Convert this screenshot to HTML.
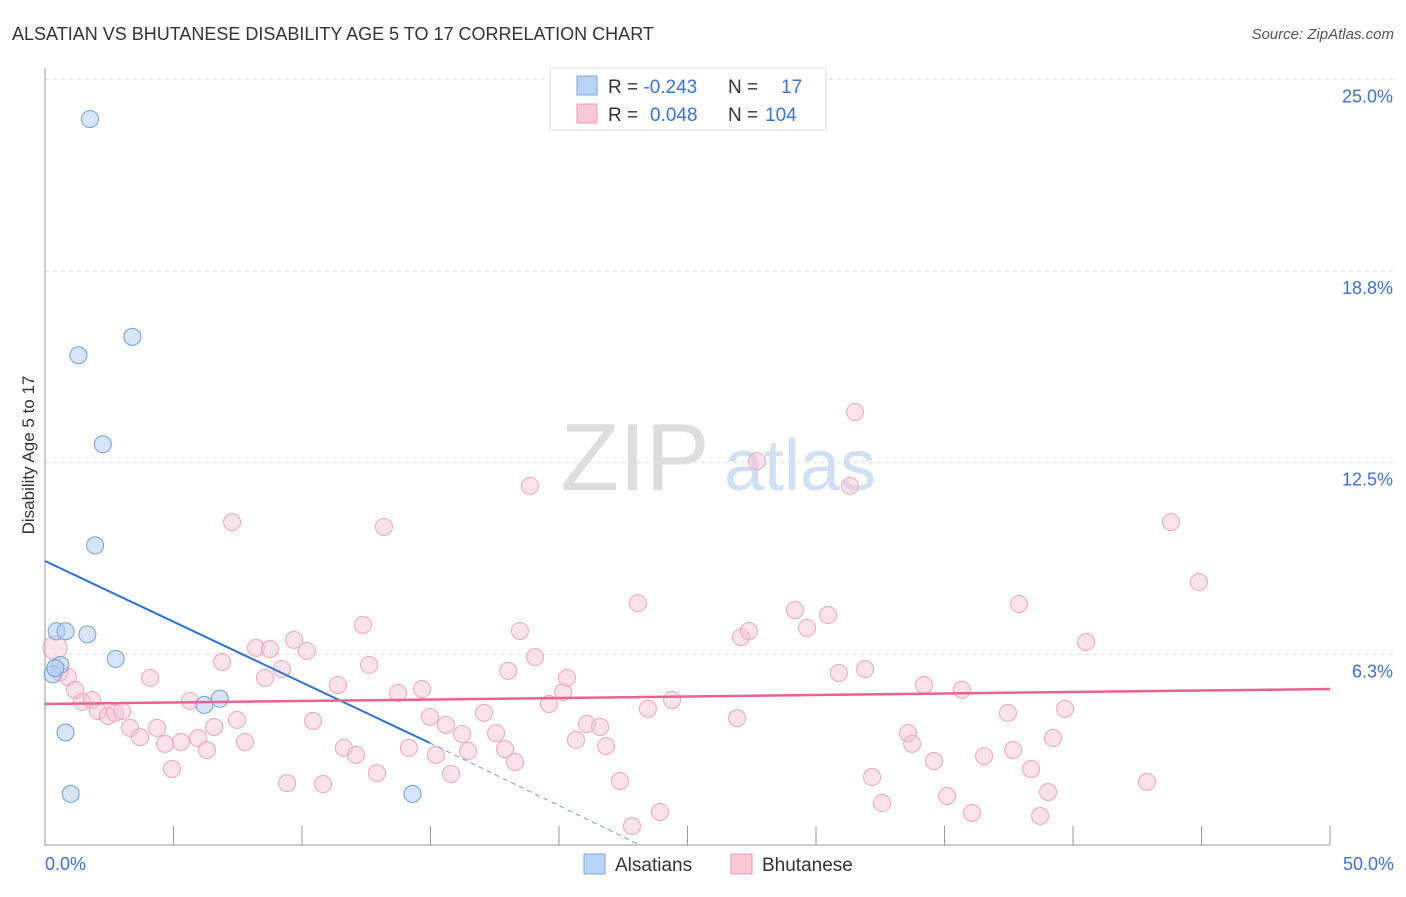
<!DOCTYPE html>
<html><head><meta charset="utf-8">
<style>
body{margin:0;background:#fff;font-family:"Liberation Sans",sans-serif;}
svg text{font-family:"Liberation Sans",sans-serif;}
</style></head>
<body>
<svg width="1406" height="892" viewBox="0 0 1406 892">
<text x="12" y="40" font-size="18" fill="#333">ALSATIAN VS BHUTANESE DISABILITY AGE 5 TO 17 CORRELATION CHART</text>
<text x="1394" y="39" font-size="15" fill="#555" text-anchor="end" font-style="italic">Source: ZipAtlas.com</text>
<text x="34" y="455" font-size="17" fill="#333" text-anchor="middle" transform="rotate(-90 34 455)">Disability Age 5 to 17</text>
<g>
<text x="635" y="490" font-size="96" fill="#ddd" text-anchor="middle" font-family="Liberation Serif">ZIP</text>
<text x="800" y="490" font-size="72" fill="#cfe0f5" text-anchor="middle">atlas</text>
</g>
<g id="grid"></g><g id="axes"></g><g id="marks"></g>
<g>
<rect x="550" y="68" width="276" height="62" fill="#fff" stroke="#ddd"/>
<rect x="577" y="76" width="20" height="19" fill="#b8d3f5" stroke="#7aa6e0"/>
<rect x="577" y="104" width="20" height="19" fill="#fac8d7" stroke="#ee9ab3"/>
<text x="608" y="93" font-size="19" fill="#333">R = <tspan fill="#3a72d6">-0.243</tspan><tspan x="728">N = </tspan><tspan x="781" fill="#3a72d6">17</tspan></text>
<text x="608" y="121" font-size="19" fill="#333">R = <tspan fill="#3a72d6" x="650">0.048</tspan><tspan x="728">N = </tspan><tspan x="765" fill="#3a72d6">104</tspan></text>
</g>
<g>
<rect x="584" y="854" width="21" height="20" fill="#b8d3f5" stroke="#7aa6e0"/>
<text x="615" y="871" font-size="19" fill="#333">Alsatians</text>
<rect x="731" y="854" width="21" height="20" fill="#fac8d7" stroke="#ee9ab3"/>
<text x="762" y="871" font-size="19" fill="#333">Bhutanese</text>
</g>
</svg>
<script>
const yTicks=[25,18.75,12.5,6.25];
const yTickLabels=["25.0%","18.8%","12.5%","6.3%"];
const blueX=[1.75,3.4,1.3,2.25,1.95,0.45,0.8,1.65,2.75,0.6,0.3,6.8,6.2,0.8,1.0,14.3,0.4];
const blueY=[23.7,16.6,16.0,13.1,9.8,7.0,7.0,6.9,6.1,5.9,5.6,4.8,4.6,3.7,1.7,1.7,5.8];
const pinkX=[0.39,0.58,0.89,1.17,1.44,1.83,2.06,2.45,2.72,3.00,3.31,3.70,4.09,4.36,4.67,4.94,5.29,5.64,5.95,6.30,6.58,6.89,7.28,7.47,7.78,8.21,8.56,8.75,9.22,9.42,9.69,10.19,10.43,10.82,11.40,11.63,12.10,12.37,12.61,12.92,13.19,13.74,14.16,14.67,14.98,15.21,15.60,15.80,16.23,16.46,17.08,17.55,17.90,18.02,18.29,18.48,18.87,19.07,19.61,20.16,20.31,20.66,21.09,21.60,21.83,22.37,22.84,23.07,23.46,23.93,24.40,26.93,27.08,27.39,27.70,29.18,29.65,30.47,30.89,31.32,31.52,31.91,32.18,32.57,33.58,33.74,34.20,34.59,35.10,35.68,36.07,36.54,37.47,37.67,37.90,38.37,38.72,39.03,39.22,39.69,40.51,42.88,43.81,44.90];
const pinkY=[6.46,5.67,5.51,5.09,4.70,4.76,4.40,4.24,4.34,4.40,3.85,3.55,5.48,3.85,3.33,2.51,3.39,4.73,3.52,3.13,3.88,6.00,10.56,4.11,3.39,6.46,5.48,6.42,5.77,2.05,6.72,6.36,4.08,2.02,5.25,3.20,2.97,7.21,5.90,2.38,10.40,4.99,3.20,5.12,4.21,2.97,3.95,2.35,3.65,3.10,4.34,3.68,3.16,5.71,2.74,7.01,11.74,6.16,4.63,5.02,5.48,3.46,3.98,3.88,3.26,2.12,0.65,7.92,4.47,1.11,4.76,4.17,6.81,7.01,12.55,7.69,7.11,7.53,5.64,11.74,14.15,5.77,2.25,1.40,3.68,3.33,5.25,2.77,1.63,5.09,1.08,2.93,4.34,3.13,7.89,2.51,0.98,1.76,3.52,4.47,6.65,2.09,10.56,8.61];
const X=v=>45+v*25.7, Y=v=>846-v*30.67;
const NS="http://www.w3.org/2000/svg";
function mk(t,a,p){const e=document.createElementNS(NS,t);for(const k in a)e.setAttribute(k,a[k]);document.getElementById(p).appendChild(e);return e;}
yTicks.forEach((t,i)=>{
 const l=mk('line',{x1:45,x2:1394,y1:Y(t),y2:Y(t),stroke:'#ddd','stroke-dasharray':'4,4'},'grid');
 
 
 const tx=mk('text',{x:1393,y:Y(t)+23,'font-size':18,fill:'#3a72d6','text-anchor':'end'},'axes');tx.textContent=yTickLabels[i];
 
 
});
const ax=mk('line',{x1:45,x2:45,y1:68,y2:846,stroke:'#999'},'axes');


const bx=mk('line',{x1:45,x2:1330,y1:845,y2:845,stroke:'#999'},'axes');


for(let i=0;i<=10;i++){const t=mk('line',{x1:X(i*5),x2:X(i*5),y1:826,y2:845,stroke:'#999'},'axes');
 
 }
[["0.0%",45,'start'],["50.0%",1394,'end']].forEach(d=>{const t=mk('text',{x:d[1],y:870,'font-size':18,fill:'#3a72d6','text-anchor':d[2]},'axes');t.textContent=d[0];
 
 });
pinkX.forEach((x,i)=>{const c=mk('circle',{cx:X(x),cy:Y(pinkY[i]),r:i==0?12:8.5,fill:'rgba(248,190,210,0.45)',stroke:'#f0a3bc','stroke-width':1},'marks');
 
 });
blueX.forEach((x,i)=>{const c=mk('circle',{cx:X(x),cy:Y(blueY[i]),r:8.5,fill:'rgba(180,208,245,0.55)',stroke:'#6f9fdc','stroke-width':1},'marks');
 
 });
let l=mk('line',{x1:45,y1:561,x2:430,y2:743,stroke:'#2a6fd6','stroke-width':2},'marks');


l=mk('line',{x1:430,y1:743,x2:640,y2:845,stroke:'#6f9fdc','stroke-width':1,'stroke-dasharray':'5,4'},'marks');


l=mk('line',{x1:45,y1:704,x2:1330,y2:689,stroke:'#e8638f','stroke-width':2.5},'marks');


</script>
</body></html>
